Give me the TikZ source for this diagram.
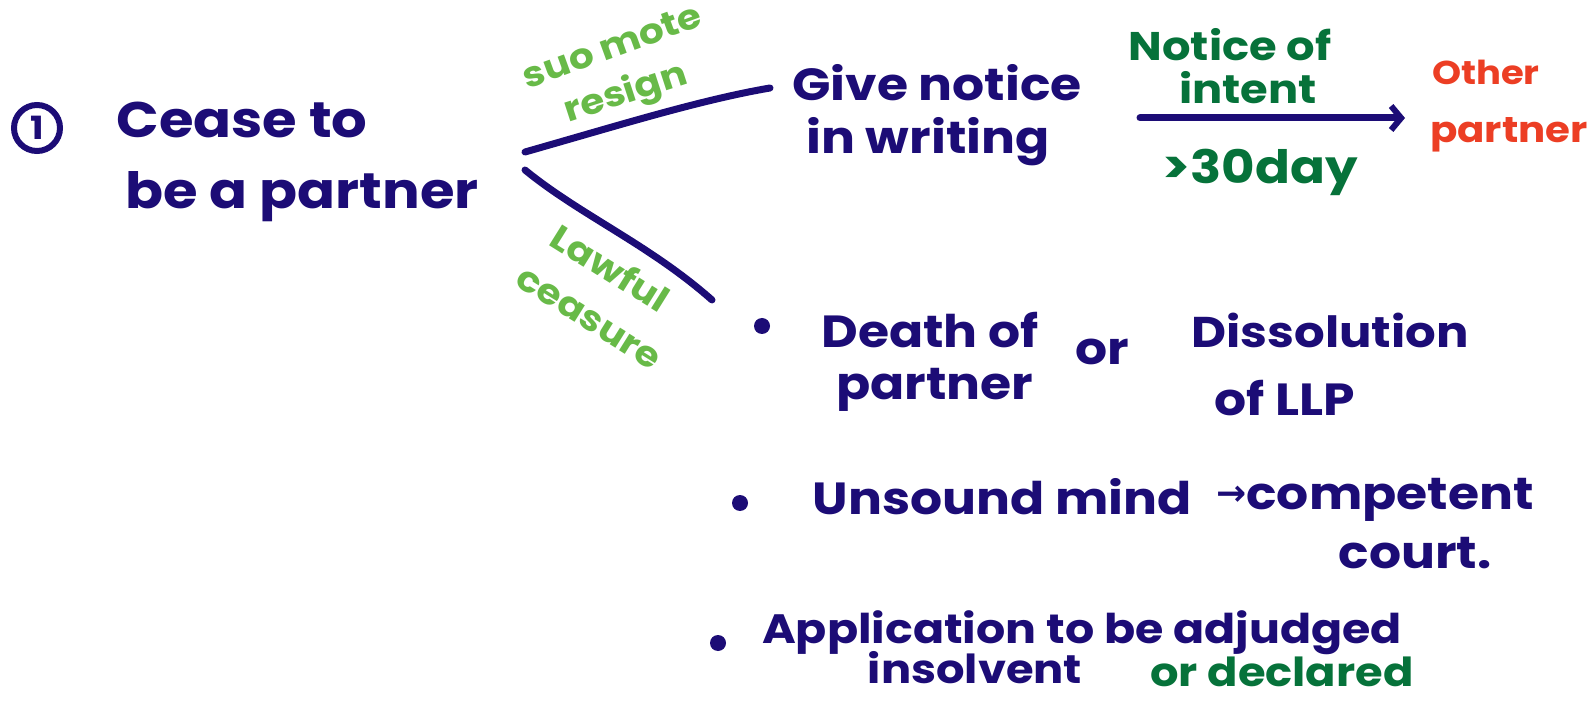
\documentclass[tikz,border=0pt]{standalone}
\usepackage{fontspec}
\setmainfont{Poppins}[FakeStretch=1.12]
\newfontfamily\symfont{DejaVu Sans}
\usetikzlibrary{arrows.meta}
\definecolor{ink}{RGB}{28,12,118}
\definecolor{lgreen}{RGB}{104,186,72}
\definecolor{dgreen}{RGB}{6,114,58}
\definecolor{redink}{RGB}{236,62,36}
\tikzset{
  pen/.style={draw=ink,line width=7pt,line cap=round,line join=round},
  big/.style={inner sep=0pt,text=ink,font=\fontsize{50}{50}\selectfont\bfseries},
  mid/.style={inner sep=0pt,text=ink,font=\fontsize{45}{45}\selectfont\bfseries},
  lg/.style={inner sep=0pt,text=lgreen,font=\fontsize{35}{35}\selectfont\bfseries},
  dg/.style={inner sep=0pt,text=dgreen,font=\fontsize{40}{40}\selectfont\bfseries},
  rd/.style={inner sep=0pt,text=redink,font=\fontsize{36}{36}\selectfont\bfseries},
  bulletdot/.style={circle,fill=ink,draw=none,inner sep=0pt,minimum size=16pt},
}
\begin{document}
\begin{tikzpicture}[x=1pt,y=-1pt]
\useasboundingbox (0,0) rectangle (1591,708);
% number
\node[circle,draw=ink,line width=6pt,inner sep=0pt,minimum size=46pt,text=ink,font=\fontsize{32}{32}\selectfont\bfseries] (num) at (37,128) {1};
\node[big] (cease) at (242,120) {Cease to};
\node[big] (bea) at (302,197) {be a partner};
% branches
\coordinate (up0) at (525,152);
\coordinate (up1) at (770,88);
\coordinate (lo0) at (525,170);
\coordinate (lo1) at (712,300);
\draw[pen] (up0) .. controls (620,125) and (700,100) .. (up1);
\draw[pen] (lo0) .. controls (580,215) and (650,245) .. (lo1);
\node[lg,rotate=20] (suo) at (612,46) {suo mote};
\node[lg,rotate=18] (resign) at (626,94) {resign};
\node[lg,rotate=-32,align=left,font=\fontsize{35}{52}\selectfont\bfseries] (lawful) at (604,294) {\hspace*{8pt}Lawful\\ceasure};
% notice
\node[mid] (give) at (937,83) {Give notice};
\node[mid] (writ) at (928,142) {in writing};
\coordinate (a0) at (1140,118);
\coordinate (a1) at (1405,118);
\draw[pen,-{Straight Barb[length=10pt,width=24pt,line width=6pt]}] (a0) -- (a1);
\node[dg] (notice) at (1230,45) {Notice of};
\node[dg] (intent) at (1248,88) {intent};
\node[dg,font=\fontsize{46}{46}\selectfont\bfseries] (days) at (1260,172) {>30day};
\node[rd,font=\fontsize{33}{33}\selectfont\bfseries] (other) at (1486,72) {Other};
\node[rd,anchor=west] (partner) at (1430,135) {partner};
% bullets
\node[bulletdot] (b1) at (762,326) {};
\node[mid] (death) at (930,330) {Death of};
\node[mid] (dpart) at (935,390) {partner};
\node[mid] (or1) at (1102,352) {or};
\node[mid,font=\fontsize{43}{43}\selectfont\bfseries] (diss) at (1330,330) {Dissolution};
\node[mid] (llp) at (1285,398) {of LLP};
\node[bulletdot] (b2) at (740,503) {};
\node[mid] (unsound) at (1002,497) {Unsound mind};
\node[mid] (comp) at (1375,500) {{\symfont\fontsize{36}{36}\selectfont\raisebox{4pt}{→}}competent};
\node[mid] (court) at (1415,553) {court.};
\node[bulletdot] (b3) at (718,643) {};
\node[mid,font=\fontsize{41}{41}\selectfont\bfseries] (appl) at (1082,633) {Application to be adjudged};
\node[mid,font=\fontsize{40}{40}\selectfont\bfseries] (insol) at (975,668) {insolvent};
\node[dg] (decl) at (1282,672) {or declared};
\end{tikzpicture}
\end{document}
